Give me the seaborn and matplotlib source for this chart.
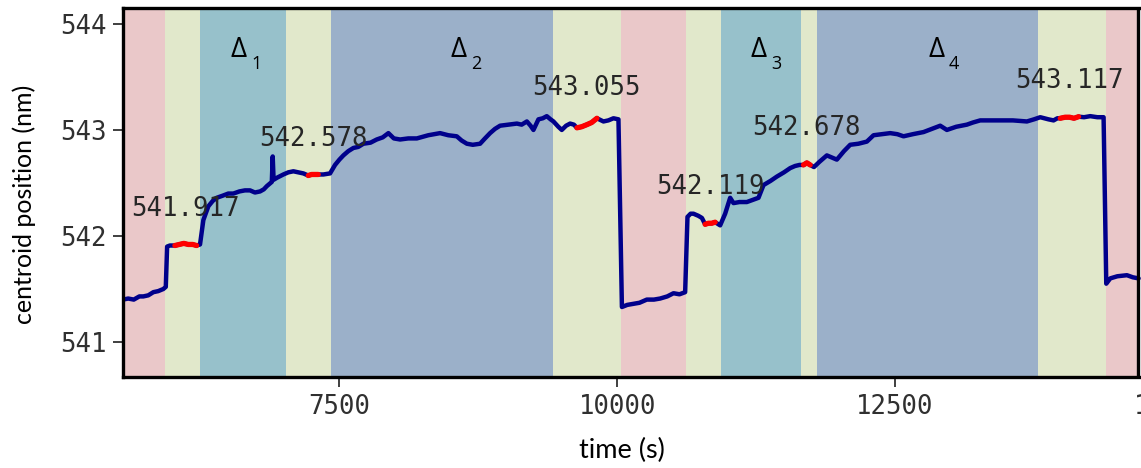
import numpy as np
import pandas as pd
import matplotlib
matplotlib.use("Agg")
import matplotlib.pyplot as plt
import seaborn as sns

# ---- centroid trace (time in s, centroid in nm) ----
time_s = [
    5553, 5600, 5650, 5700, 5736, 5780, 5826, 5870, 5916, 5938,
    5950, 5975, 6020, 6060, 6100, 6140, 6180, 6215,
    6246, 6276, 6321, 6360, 6396, 6450, 6500, 6546, 6600, 6650, 6696, 6740,
    6786, 6820, 6847, 6870, 6892, 6900, 6908, 6940, 6996, 7040, 7086, 7130, 7176,
    7220, 7250, 7280, 7310,
    7356, 7416, 7461, 7500, 7536, 7580, 7626, 7670, 7716, 7780, 7836, 7890, 7941,
    7990, 8046, 8120, 8197, 8300, 8406, 8480, 8556, 8600, 8647, 8700, 8766, 8810,
    8856, 8900, 8946, 9020, 9097, 9140, 9187, 9220, 9246, 9291, 9330, 9366, 9400,
    9426, 9470, 9501, 9540, 9576, 9610,
    9637, 9680, 9727, 9770, 9817,
    9876, 9920, 9966, 10011, 10042, 10090, 10146, 10200, 10266, 10330, 10386,
    10450, 10506, 10560, 10611, 10632, 10660, 10686, 10730, 10762,
    10791, 10820, 10850, 10881,
    10926, 10971, 11016, 11046, 11100, 11166, 11220, 11271, 11316, 11380, 11436,
    11500, 11556, 11600, 11640,
    11676, 11706, 11736,
    11770, 11820, 11886, 11930, 11976, 12040, 12096, 12170, 12246, 12306, 12380,
    12456, 12520, 12576, 12660, 12756, 12830, 12906, 12966, 13050, 13146, 13200,
    13266, 13350, 13446, 13560, 13686, 13750, 13806, 13880, 13926, 13960,
    13986, 14030, 14070, 14110, 14151,
    14200, 14256, 14320, 14376, 14400, 14436, 14500, 14586, 14640, 14691,
]
centroid_nm = [
    541.40, 541.41, 541.40, 541.43, 541.43, 541.44, 541.47, 541.48, 541.50, 541.52,
    541.90, 541.91, 541.91, 541.92, 541.93, 541.92, 541.92, 541.91,
    541.92, 542.15, 542.28, 542.33, 542.36, 542.38, 542.40, 542.40, 542.42, 542.43, 542.43, 542.41,
    542.42, 542.44, 542.47, 542.49, 542.51, 542.75, 542.53, 542.55, 542.58, 542.60, 542.61, 542.60, 542.59,
    542.57, 542.58, 542.58, 542.58,
    542.58, 542.59, 542.67, 542.72, 542.76, 542.80, 542.83, 542.84, 542.87, 542.88, 542.91, 542.93, 542.97,
    542.92, 542.91, 542.92, 542.92, 542.95, 542.97, 542.95, 542.94, 542.90, 542.87, 542.86, 542.87, 542.92,
    542.97, 543.01, 543.04, 543.05, 543.06, 543.05, 543.08, 543.04, 543.00, 543.10, 543.11, 543.13, 543.10,
    543.08, 543.03, 543.00, 543.04, 543.06, 543.05,
    543.02, 543.03, 543.05, 543.07, 543.11,
    543.08, 543.09, 543.11, 543.10, 541.33, 541.35, 541.36, 541.37, 541.40, 541.40, 541.41,
    541.43, 541.46, 541.45, 541.47, 542.18, 542.21, 542.21, 542.19, 542.17,
    542.11, 542.12, 542.12, 542.13,
    542.10, 542.21, 542.36, 542.31, 542.32, 542.32, 542.34, 542.36, 542.48, 542.52, 542.56,
    542.60, 542.64, 542.66, 542.67,
    542.67, 542.69, 542.67,
    542.65, 542.70, 542.76, 542.74, 542.72, 542.80, 542.86, 542.87, 542.89, 542.95, 542.96,
    542.97, 542.96, 542.94, 542.96, 542.98, 543.01, 543.04, 543.00, 543.03, 543.05, 543.07,
    543.09, 543.09, 543.09, 543.09, 543.08, 543.10, 543.12, 543.10, 543.09, 543.11,
    543.11, 543.12, 543.12, 543.11, 543.125,
    543.12, 543.13, 543.12, 543.12, 541.55, 541.60, 541.62, 541.63, 541.61, 541.60,
]

# ---- measurement phases (shaded backgrounds) ----
phase_edges = [5553, 5935, 6245, 7020, 7425, 9425, 10035, 10620, 10935, 11655,
               11800, 13785, 14395, 14690]
phase_kinds = ["off", "settle", "step", "settle", "drift", "settle", "off",
               "settle", "step", "settle", "drift", "settle", "off"]
phase_colors = {"off": "#EAC8C9", "settle": "#E1E8CB",
                "step": "#97C1CB", "drift": "#9BB0C9"}

# ---- averaging windows and their mean centroid ----
window_start = [6020, 7220, 9637, 10791, 11676, 13986]
window_end = [6215, 7310, 9817, 10881, 11736, 14151]
window_mean = [541.917, 542.578, 543.055, 542.119, 542.678, 543.117]

# ---- delta labels ----
delta_names = ["1", "2", "3", "4"]
delta_x = [6669, 8649, 11348, 12948]
delta_y = 543.69

trace = pd.DataFrame({"time": time_s, "centroid": centroid_nm})

sns.set_theme(style="white")
plt.rcParams["font.family"] = ["DejaVu Sans Mono", "DejaVu Sans"]

fig = plt.figure(figsize=(11.41, 4.68), dpi=100)
px_per_s = 0.11114
x_left, x_right = 5553, 16000
ax_w_px = (x_right - x_left) * px_per_s
ax = fig.add_axes([123 / 1141, 91 / 468, ax_w_px / 1141, 369 / 468])
ax.set_facecolor("white")

for a, b, kind in zip(phase_edges[:-1], phase_edges[1:], phase_kinds):
    ax.axvspan(a, b, color=phase_colors[kind], lw=0, zorder=0)

sns.lineplot(data=trace, x="time", y="centroid", color="#00008B",
             lw=3.2, ax=ax, zorder=3, estimator=None)

for a, b, m in zip(window_start, window_end, window_mean):
    sub = trace[(trace["time"] >= a) & (trace["time"] <= b)]
    sns.lineplot(data=sub, x="time", y="centroid", color="#FF0000",
                 lw=3.8, ax=ax, zorder=4, estimator=None)
    ax.text((a + b) / 2, m + 0.34, f"{m:.3f}", ha="center", va="center",
            fontsize=18.5, color="#262626", family="DejaVu Sans Mono", zorder=5)

greek = ["Open Sans", "DejaVu Sans"]
for name, x in zip(delta_names, delta_x):
    ax.text(x, delta_y, "\u0394", ha="right", va="baseline", fontsize=20,
            color="black", family=greek, zorder=5)
    ax.annotate(name, (x, delta_y), xytext=(3.0, -8.6), textcoords="offset points",
                ha="left", va="baseline", fontsize=13, color="black",
                family=greek, zorder=5)

# right border of the recorded interval
ax.axvline(phase_edges[-1], color="black", lw=2.4, zorder=6)

ax.set_xlim(x_left, x_right)
ax.set_ylim(540.67, 544.15)
ax.set_xticks([7500, 10000, 12500, 15000])
ax.set_yticks([541, 542, 543, 544])
ax.tick_params(axis="both", which="major", labelsize=18.5, labelcolor="#303030",
               length=7, width=1.3, color="#303030", pad=5,
               bottom=True, left=True)
for side in ["left", "bottom", "top", "right"]:
    ax.spines[side].set_color("black")
    ax.spines[side].set_linewidth(2.4)
    ax.spines[side].set_zorder(6)

label_font = ["Lato", "DejaVu Sans"]
ax.set_xlabel("time (s)", fontsize=19.5, family=label_font, color="black")
ax.set_ylabel("centroid position (nm)", fontsize=18, family=label_font, color="black")
ax.xaxis.set_label_coords((622 - 123) / ax_w_px, -(450 - 377) / 369)
ax.xaxis.label.set_va("center")
ax.yaxis.set_label_coords(-(123 - 24) / ax_w_px, (377 - 204) / 369)
ax.yaxis.label.set_va("center")

fig.savefig("out.png", dpi=100)
